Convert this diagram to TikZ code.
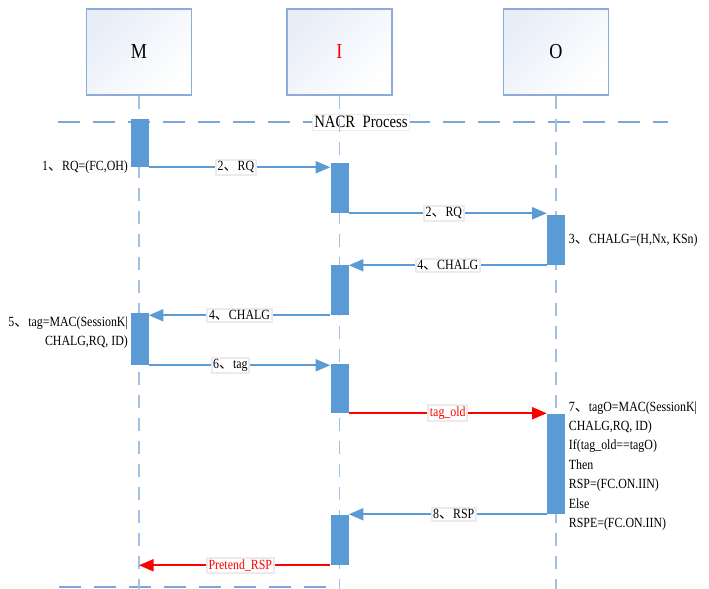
\documentclass[tikz,border=0pt]{standalone}
\usepackage{fontspec}
\setmainfont[FakeStretch=0.85]{Liberation Serif}
\newfontfamily\cjk{Noto Sans CJK SC}
\usepackage{xcolor}
\usepackage{tikz}
\usetikzlibrary{arrows.meta,positioning,calc}
\definecolor{barblue}{HTML}{5B9BD5}
\definecolor{boxline}{HTML}{8EAADB}
\definecolor{boxfill}{HTML}{E8EEF8}
\definecolor{lifeblue}{HTML}{A3C1E5}
\definecolor{framedash}{HTML}{7EA6D8}
\newcommand{\dn}{{\cjk 、}}

\begin{document}
\begin{tikzpicture}[x=0.75pt,y=-0.75pt,
    actor/.style={draw=boxline, line width=1pt, top color=boxfill, bottom color=white, shading angle=45,
        minimum width=78.75pt, minimum height=64.5pt, font=\fontsize{16}{18}\selectfont},
    life/.style={lifeblue, line width=1.1pt, dash pattern=on 9.75pt off 7.5pt},
    sepline/.style={framedash, line width=1.6pt, dash pattern=on 16.5pt off 9.75pt},
    bar/.style={fill=barblue, inner sep=0pt, minimum width=13.5pt, minimum height=#1*0.75pt},
    msg/.style={barblue, line width=1.5pt, -{Triangle[length=11pt,width=9pt]}},
    forged/.style={msg, red},
    lbl/.style={fill=white, draw=black!8, text=black, inner sep=1.2pt, font=\fontsize{10.5}{14.6}\selectfont},
    note/.style={inner sep=1.5pt, font=\fontsize{10.5}{14.6}\selectfont}]
\useasboundingbox (0,0) rectangle (709,588);

\node[actor] (M) at (139,52) {M};
\node[actor, text=red] (I) at (339.5,52) {I};
\node[actor] (O) at (556,52) {O};

\draw[sepline] (58,122) -- (668,122);
\node[fill=white, draw=black!8, inner sep=1.5pt, font=\fontsize{13}{15}\selectfont] (np) at (361,122) {NACR~ Process};
\draw[sepline] (59,587) -- (335,587);

\draw[life] (M.south) -- ++(0,493);
\draw[life] (I.south) -- ++(0,493);
\draw[life] (O.south) -- ++(0,493);

\node[bar=48] (m1) at (139.5,143) {};
\node[bar=50] (i1) at (339.5,188) {};
\node[bar=50] (o1) at (556,240) {};
\node[bar=50] (i2) at (339.5,290) {};
\node[bar=52] (m2) at (139.5,339) {};
\node[bar=49] (i3) at (339.5,388.5) {};
\node[bar=100] (o2) at (556,464) {};
\node[bar=50] (i4) at (339.5,540) {};

\draw[msg] (m1.south east) -- (m1.south east -| i1.west) node[lbl, pos=0.48] (t1) {2\dn RQ};
\draw[msg] (i1.south east) -- (i1.south east -| o1.west) node[lbl, pos=0.48] (t2) {2\dn RQ};
\draw[msg] (o1.south west) -- (o1.south west -| i2.east) node[lbl, midway] (t3) {4\dn CHALG};
\draw[msg] (i2.south west) -- (i2.south west -| m2.east) node[lbl, midway] (t4) {4\dn CHALG};
\draw[msg] (m2.south east) -- (m2.south east -| i3.west) node[lbl, pos=0.45] (t5) {6\dn tag};
\draw[forged] (i3.south east) -- (i3.south east -| o2.west) node[lbl, midway, text=red] (t6) {tag\_old};
\draw[msg] (o2.south west) -- (o2.south west -| i4.east) node[lbl, pos=0.47] (t7) {8\dn RSP};
\draw[forged] (i4.south west) -- (i4.south west -| M.south) node[lbl, pos=0.47, text=red] (t8) {Pretend\_RSP};

\node[note, anchor=east] (n1) at (m1.south west) {1\dn RQ=(FC,OH)};
\node[note, anchor=west, xshift=1pt] (n3) at (o1.east) {3\dn CHALG=(H,Nx, KSn)};
\node[note, anchor=north east, align=right, yshift=-1pt] (n5) at (m2.north west) {5\dn tag=MAC(SessionK|\\CHALG,RQ, ID)};
\node[note, anchor=north west, align=left, xshift=1pt, yshift=11pt] (n7) at (o2.north east)
    {7\dn tagO=MAC(SessionK|\\CHALG,RQ, ID)\\If(tag\_old==tagO)\\Then\\RSP=(FC.ON.IIN)\\Else\\RSPE=(FC.ON.IIN)};
\end{tikzpicture}
\end{document}
